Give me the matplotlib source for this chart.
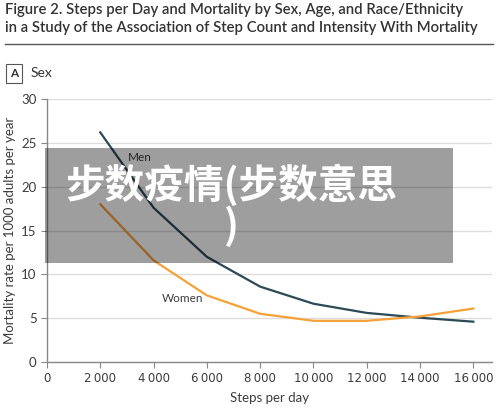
import numpy as np
import matplotlib
matplotlib.use("Agg")
import matplotlib.pyplot as plt
from matplotlib.patches import Rectangle

plt.rcParams['font.family'] = ['Lato', 'DejaVu Sans']

# data
steps = [2000, 4000, 6000, 8000, 10000, 12000, 14000, 16000]
men = [26.2, 17.6, 12.0, 8.6, 6.65, 5.6, 5.05, 4.6]
women = [18.0, 11.6, 7.6, 5.5, 4.7, 4.7, 5.2, 6.1]
xticks = [0, 2000, 4000, 6000, 8000, 10000, 12000, 14000, 16000]
yticks = [0, 5, 10, 15, 20, 25, 30]

men_color = '#2b4a55'
women_color = '#f6a137'
txt = '#3c3c3c'

fig = plt.figure(figsize=(5, 4.12), dpi=100)
ax = fig.add_axes([0.094, 0.1214, 0.89, 0.638])

ax.plot(steps, men, color=men_color, lw=1.6, zorder=3)
ax.plot(steps, women, color=women_color, lw=1.6, zorder=3)
ax.text(3050, 23.3, 'Men', color=txt, fontsize=8.5, va='center', ha='left')
ax.text(4300, 7.2, 'Women', color=txt, fontsize=8.5, va='center', ha='left')

ax.set_xlim(0, 16700)
ax.set_ylim(0, 30)
ax.set_xticks(xticks)
ax.set_xticklabels([('{:,}'.format(v)).replace(',', '\u2009') for v in xticks],
                   family=['DejaVu Sans'])
ax.set_yticks(yticks)
ax.tick_params(colors='#888888', labelcolor=txt, labelsize=9.5, length=4, width=0.8)
for lab in ax.get_xticklabels():
    lab.set_fontsize(8.5)
ax.yaxis.grid(True, color='#dddddd', lw=1)
ax.set_axisbelow(True)
for s in ['top', 'right']:
    ax.spines[s].set_visible(False)
for s in ['left', 'bottom']:
    ax.spines[s].set_color('#888888')
    ax.spines[s].set_linewidth(1)
ax.set_xlabel('Steps per day', color=txt, fontsize=9.5, labelpad=5)
ax.set_ylabel('Mortality rate per 1000 adults per year', color=txt, fontsize=9.5)

# header
fig.text(0.01, 0.993,
         'Figure 2. Steps per Day and Mortality by Sex, Age, and Race/Ethnicity\n'
         'in a Study of the Association of Step Count and Intensity With Mortality',
         color='#333333', fontsize=10.7, weight='semibold', va='top', ha='left',
         linespacing=1.35)
fig.add_artist(plt.Line2D([0.01, 0.986], [0.893, 0.893], color='#555555', lw=1))
fig.text(0.028, 0.822, 'A', color='#333333', fontsize=8.5, weight='bold',
         ha='center', va='center',
         bbox=dict(boxstyle='square,pad=0.35', fc='white', ec='#555555', lw=0.8))
fig.text(0.062, 0.823, 'Sex', color='#333333', fontsize=10, va='center')

# watermark overlay
fig.add_artist(Rectangle((0.09, 0.362), 0.816, 0.279, transform=fig.transFigure,
                         facecolor='black', alpha=0.38, edgecolor='none', zorder=5))
fig.text(0.462, 0.50, '步数疫情(步数意思\n)', color='white', fontsize=28.5,
         weight='bold', ha='center', va='center', linespacing=1.0,
         family=['Noto Sans CJK SC', 'DejaVu Sans'], zorder=6)

fig.savefig('out.png', dpi=100)
